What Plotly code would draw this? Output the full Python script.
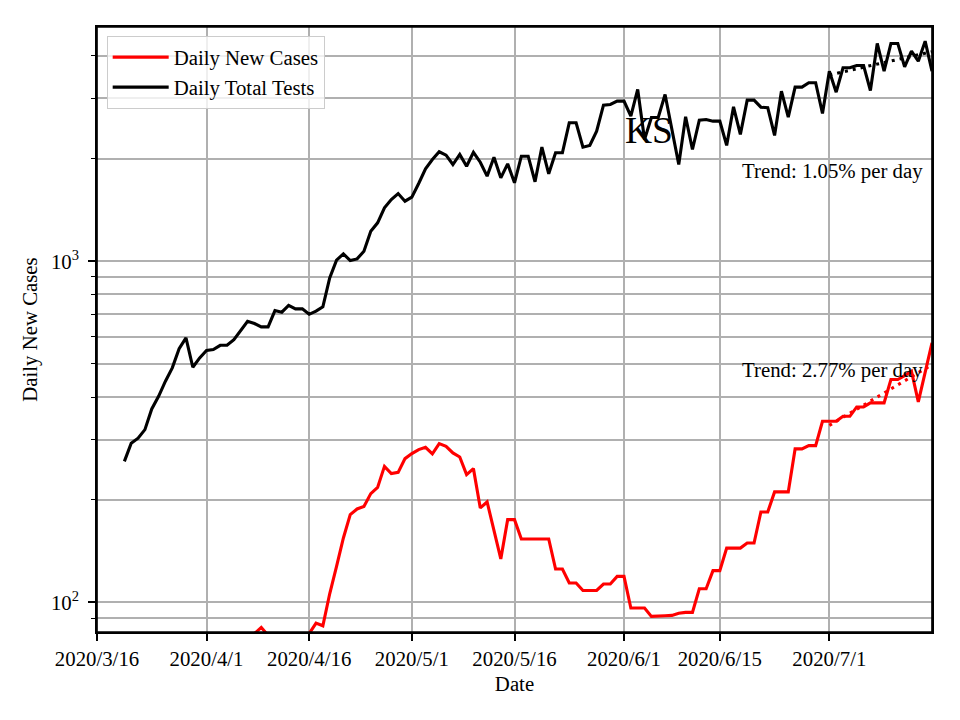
import numpy as np
import pandas as pd
import plotly.graph_objects as go

# ---------------- data ----------------
start_date = "2020-03-20"
end_date = "2020-07-16"
dates = pd.date_range(start_date, end_date, freq="D")

daily_tests = [
    259, 293, 303, 321, 369, 402, 445, 487, 554, 596,
    489, 521, 548, 551, 567, 567, 589, 626, 667, 657,
    642, 642, 717, 709, 742, 725, 725, 699, 714, 735,
    894, 1007, 1051, 1005, 1016, 1070, 1225, 1296, 1434, 1517,
    1579, 1500, 1541, 1690, 1866, 1987, 2094, 2046, 1921, 2056,
    1899, 2087, 1951, 1776, 2018, 1756, 1930, 1698, 2032, 2032,
    1710, 2160, 1804, 2079, 2079, 2546, 2546, 2160, 2185, 2406,
    2868, 2881, 2946, 2946, 2662, 3188, 2274, 2639, 2639, 3082,
    2434, 1921, 2651, 2126, 2591, 2603, 2574, 2574, 2185, 2837,
    2353, 2966, 2966, 2829, 2818, 2337, 3151, 2644, 3238, 3238,
    3336, 3336, 2711, 3607, 3130, 3691, 3691, 3749, 3749, 3166,
    4350, 3607, 4350, 4350, 3716, 4129, 3860, 4418, 3607,
]

daily_cases = [
    9, 12, 16, 20, 26, 31, 37, 44, 50, 55,
    58, 62, 65, 66, 70, 72, 74, 76, 78, 81,
    84.5, 80, 75, 72, 74, 70, 76, 81, 87, 85.4,
    106, 127.5, 154.5, 180.8, 187.9, 191.2, 208.4, 217.4, 250.5, 238.5,
    240.6, 263.9, 273.0, 280.5, 284.8, 272.4, 292.0, 286.8, 274.2, 266.9,
    236.9, 246.7, 189.2, 197.0, 161.5, 134.1, 174.8, 174.8, 153.4, 153.4,
    153.4, 153.4, 153.4, 125.3, 125.3, 114.0, 114.0, 108.4, 108.4, 108.4,
    113.2, 113.2, 119.2, 119.2, 96.3, 96.3, 96.3, 91.0, 91.0, 91.4,
    91.6, 93.0, 93.5, 93.5, 109.7, 109.7, 123.9, 123.9, 144.3, 144.3,
    144.3, 149.3, 149.3, 184.1, 184.1, 210.8, 210.8, 210.8, 281.8, 281.8,
    288.1, 288.1, 339.5, 339.5, 339.5, 351.2, 351.2, 374.1, 374.1, 384.4,
    384.4, 384.4, 450.0, 450.0, 462.3, 475.9, 387.0, 475.0, 576.5,
]

trend_days = 16                 # trend fitted over the last 16 days
trend_rate_tests = 0.0105       # 1.05% per day
trend_rate_cases = 0.0277       # 2.77% per day

x_tick_dates = ["2020-03-16", "2020-04-01", "2020-04-16", "2020-05-01",
                "2020-05-16", "2020-06-01", "2020-06-15", "2020-07-01"]
x_tick_labels = ["2020/3/16", "2020/4/1", "2020/4/16", "2020/5/1",
                 "2020/5/16", "2020/6/1", "2020/6/15", "2020/7/1"]
y_major = [100, 1000]
y_major_labels = ["10<sup>2</sup>", "10<sup>3</sup>"]
y_minor = [90, 200, 300, 400, 500, 600, 700, 800, 900, 2000, 3000, 4000]

x_range = ["2020-03-16", "2020-07-16"]
y_range = [81.9, 4860]


def trend(values, rate, n):
    """Exponential trend with the stated daily growth, through the mean of the last n points."""
    v = np.log10(np.asarray(values[-n:], dtype=float))
    t = np.arange(n)
    slope = np.log10(1 + rate)
    icpt = v.mean() - slope * t.mean()
    return 10 ** (icpt + slope * t)


trend_x = dates[-trend_days:]
trend_tests = trend(daily_tests, trend_rate_tests, trend_days)
trend_cases = trend(daily_cases, trend_rate_cases, trend_days)

# ---------------- figure ----------------
FONT = "Liberation Serif, Times New Roman, serif"
FS = 20.8
GRID = "#b0b0b0"
LW = 1.67

fig = go.Figure()
fig.add_trace(go.Scatter(x=dates, y=daily_cases, mode="lines", name="Daily New Cases",
                         line=dict(color="#ff0000", width=3.1)))
fig.add_trace(go.Scatter(x=dates, y=daily_tests, mode="lines", name="Daily Total Tests",
                         line=dict(color="#000000", width=3.1)))
fig.add_trace(go.Scatter(x=trend_x, y=trend_tests, mode="lines", showlegend=False,
                         line=dict(color="#000000", width=3.1, dash="3px,5px")))
fig.add_trace(go.Scatter(x=trend_x, y=trend_cases, mode="lines", showlegend=False,
                         line=dict(color="#ff0000", width=3.1, dash="3px,5px")))

fig.add_annotation(x="2020-06-18", y=np.log10(1833), xref="x", yref="y",
                   text="Trend: 1.05% per day", showarrow=False,
                   xanchor="left", yanchor="middle",
                   font=dict(family=FONT, size=FS, color="black"))
fig.add_annotation(x="2020-06-18", y=np.log10(481), xref="x", yref="y",
                   text="Trend: 2.77% per day", showarrow=False,
                   xanchor="left", yanchor="middle",
                   font=dict(family=FONT, size=FS, color="black"))
fig.add_annotation(x="2020-06-04 16:00", y=np.log10(2416), xref="x", yref="y",
                   text="KS", showarrow=False,
                   xanchor="center", yanchor="middle",
                   font=dict(family=FONT, size=37.5, color="black"))

# axes frame (all four spines)
fig.add_shape(type="rect", xref="paper", yref="paper", x0=0, y0=0, x1=1, y1=1,
              line=dict(color="black", width=LW), fillcolor="rgba(0,0,0,0)", layer="above")

fig.update_layout(
    width=960, height=720,
    margin=dict(l=97, r=28, t=27, b=88, autoexpand=False),
    paper_bgcolor="white", plot_bgcolor="white",
    font=dict(family=FONT, size=FS, color="black"),
    showlegend=True,
    legend=dict(x=0.0116, y=0.985, xanchor="left", yanchor="top",
                bgcolor="rgba(255,255,255,0.8)", bordercolor="#cccccc", borderwidth=1,
                font=dict(family=FONT, size=FS, color="black"),
                itemwidth=56, tracegroupgap=0),
    xaxis=dict(
        type="date", range=x_range, automargin=False,
        tickmode="array", tickvals=x_tick_dates, ticktext=x_tick_labels,
        ticks="outside", ticklen=7, tickwidth=LW, tickcolor="black",
        showgrid=True, gridcolor=GRID, gridwidth=LW,
        showline=True, linecolor="black", linewidth=LW, mirror=True,
        zeroline=False,
        title=dict(text="Date", font=dict(family=FONT, size=FS), standoff=8),
    ),
    yaxis=dict(
        type="log", range=[np.log10(y_range[0]), np.log10(y_range[1])], automargin=False,
        tickmode="array", tickvals=y_major, ticktext=y_major_labels,
        ticks="outside", ticklen=7, tickwidth=LW, tickcolor="black",
        ticklabelstandoff=5,
        showgrid=True, gridcolor=GRID, gridwidth=LW,
        showline=True, linecolor="black", linewidth=LW, mirror=True,
        zeroline=False,
        minor=dict(tickmode="array", tickvals=y_minor, ticks="outside", ticklen=4,
                   tickwidth=1.2, tickcolor="black",
                   showgrid=True, gridcolor=GRID, gridwidth=LW),
        title=dict(text="Daily New Cases", font=dict(family=FONT, size=FS), standoff=8),
    ),
)

fig.write_html("out.html", config={"displayModeBar": False},
               post_script="document.body.style.margin='0';document.body.style.padding='0';")
